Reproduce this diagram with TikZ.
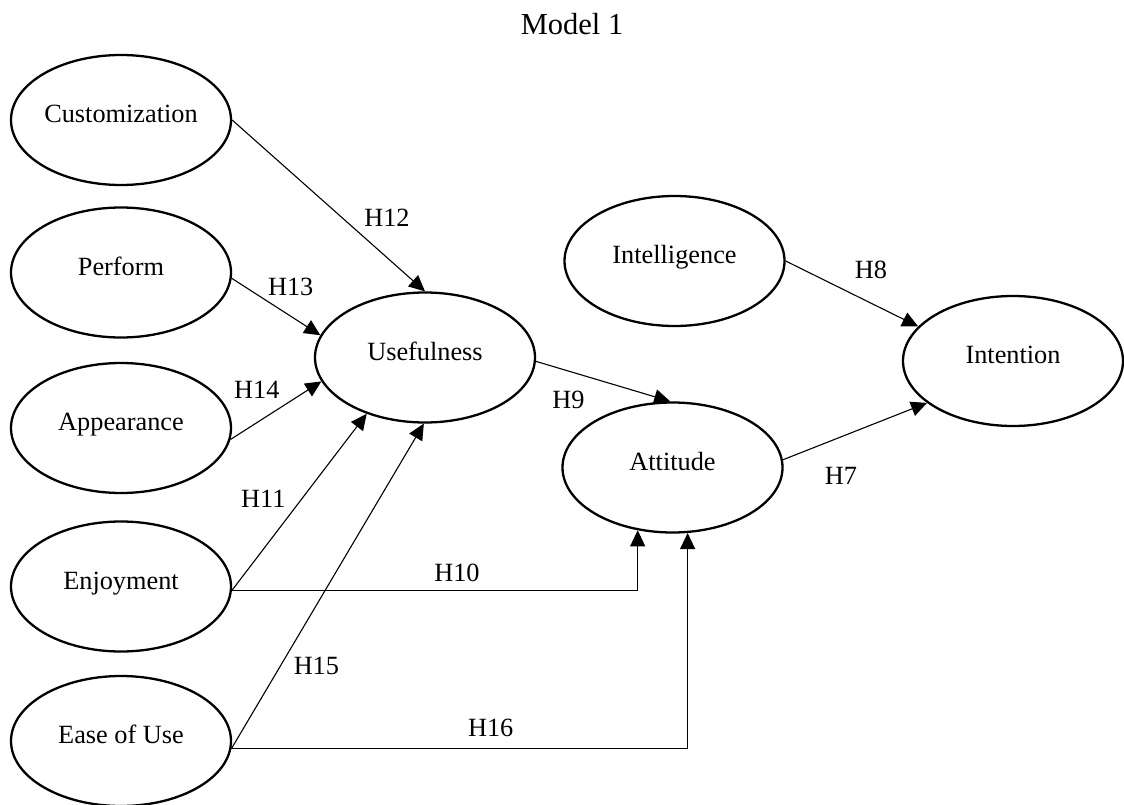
\documentclass[tikz,border=0pt]{standalone}
\usepackage{fontspec}
\setmainfont{Liberation Serif}
\usetikzlibrary{shapes.geometric,arrows.meta}

\tikzset{
  construct/.style={ellipse, draw=black, line width=2.3pt, fill=white,
    minimum width=220pt, minimum height=130pt, inner sep=0pt,
    font=\fontsize{26.3}{30}\selectfont, text height=18.4pt, text depth=13pt},
  path/.style={draw=black, line width=1.1pt, -{Triangle[length=16pt,width=15pt]}},
  hyp/.style={anchor=base, font=\fontsize{26.3}{30}\selectfont},
}

\begin{document}
\begin{tikzpicture}[x=1pt,y=-1pt]
  \fill[white] (0,0) rectangle (1124,805);
  \useasboundingbox (0,0) rectangle (1124,805);

  \node[anchor=base, font=\fontsize{30.5}{34}\selectfont] (title) at (572,35) {Model 1};

  % antecedents
  \node[construct] (cust) at (121,120)   {Customization};
  \node[construct] (perf) at (121,272.5) {Perform};
  \node[construct] (app)  at (121,428)   {Appearance};
  \node[construct] (enj)  at (121,586.5) {Enjoyment};
  \node[construct] (ease) at (121,741)   {Ease of Use};

  % mediators and outcome
  \node[construct] (use)   at (425,357.5)  {Usefulness};
  \node[construct] (intel) at (674.5,261)  {Intelligence};
  \node[construct] (att)   at (672.5,467.5){Attitude};
  \node[construct] (intn)  at (1013,361)   {Intention};

  % hypothesised paths
  \draw[path] (cust.east) -- (use.north);
  \draw[path] (perf.-3) -- (use.168);
  \draw[path] (app.-6) -- (use.193);
  \draw[path] (enj.-2) -- (use.224);
  \draw[path] (ease.-4) -- (use.-91);
  \draw[path] (enj.-2) -| (att.241.4);
  \draw[path] (ease.-4) -| (att.-77);
  \draw[path] (use.-2) -- (att.92);
  \draw[path] (att.4) -- (intn.206);
  \draw[path] (intel.east) -- (intn.160);

  % hypothesis labels
  \node[hyp] (h12) at (387,226)     {H12};
  \node[hyp] (h13) at (290.7,295.4) {H13};
  \node[hyp] (h14) at (256.8,398)   {H14};
  \node[hyp] (h11) at (263.4,507)   {H11};
  \node[hyp] (h10) at (457,581.5)   {H10};
  \node[hyp] (h15) at (316.4,674.2) {H15};
  \node[hyp] (h16) at (490.7,736)   {H16};
  \node[hyp] (h9)  at (568.5,408.4) {H9};
  \node[hyp] (h8)  at (871,278.7)   {H8};
  \node[hyp] (h7)  at (841,484.2)   {H7};
\end{tikzpicture}
\end{document}
